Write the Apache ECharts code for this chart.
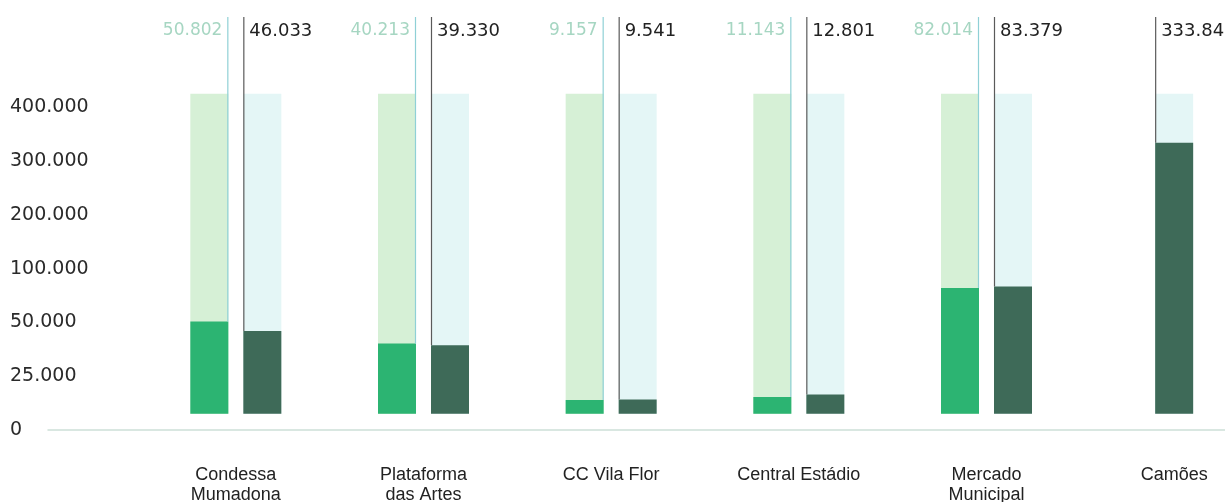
<!DOCTYPE html>
<html>
<head>
<meta charset="utf-8">
<script src="https://cdn.jsdelivr.net/npm/echarts@6/dist/echarts.min.js"></script>
<style>
html,body{margin:0;padding:0;background:#fff;}
#chart{width:1225px;height:502px;}
</style>
</head>
<body>
<div id="chart"></div>
<script>
// ---- data ----
const categories = ['Condessa\nMumadona', 'Plataforma\ndas Artes', 'CC Vila Flor', 'Central Estádio', 'Mercado\nMunicipal', 'Camões'];
const seriesGreen = [50802, 40213, 9157, 11143, 82014, null];
const seriesDark = [46033, 39330, 9541, 12801, 83379, 333847];
const tickValues = [0, 25000, 50000, 100000, 200000, 300000, 400000];
const tickLabels = ['0', '25.000', '50.000', '100.000', '200.000', '300.000', '400.000'];
const capValue = 425000; // height of the pale background columns

// ---- scale helpers (piecewise axis: each tick label is one equal step) ----
const BAR_BASE = 0.3; // bars start slightly above the "0" label
function toPos(v) {
  const pos = [BAR_BASE, 1, 2, 3, 4, 5, 6];
  if (v <= tickValues[0]) return pos[0];
  for (let k = 1; k < tickValues.length; k++) {
    if (v <= tickValues[k]) {
      return pos[k - 1] + (v - tickValues[k - 1]) / (tickValues[k] - tickValues[k - 1]) * (pos[k] - pos[k - 1]);
    }
  }
  const n = tickValues.length - 1;
  return pos[n] + (v - tickValues[n]) / (tickValues[n] - tickValues[n - 1]);
}
function fmt(v) {
  return String(Math.round(v)).replace(/\B(?=(\d{3})+(?!\d))/g, '.');
}

const NUM_FONT = '"DejaVu Sans", "Noto Sans", sans-serif';
const CAT_FONT = '"Liberation Sans", Arial, sans-serif';
const data = categories.map((c, i) => [i, seriesGreen[i], seriesDark[i]]);

function renderItem(params, api) {
  const i = api.value(0);
  const a = seriesGreen[i];
  const b = seriesDark[i];
  const center = api.coord([i, 0]);
  const base = api.coord([i, BAR_BASE])[1];
  const capY = api.coord([i, toPos(capValue)])[1];
  const W = 38, G = 15;
  const lineTop = params.coordSys.y - 74;
  const labelY = lineTop + 14;
  const children = [];
  let xb;
  if (a != null) {
    const xa = center[0] - G / 2 - W;
    const ya = api.coord([i, toPos(a)])[1];
    children.push({ type: 'rect', shape: { x: xa, y: capY, width: W, height: base - capY }, style: { fill: '#d6f0d6' } });
    children.push({ type: 'rect', shape: { x: xa, y: ya, width: W, height: base - ya }, style: { fill: '#2cb472' } });
    children.push({ type: 'line', shape: { x1: xa + W - 0.5, y1: lineTop, x2: xa + W - 0.5, y2: ya }, style: { stroke: '#8fd0d6', lineWidth: 1.2 } });
    children.push({ type: 'text', x: xa + W - 6, y: labelY, style: { text: fmt(a), textAlign: 'right', textVerticalAlign: 'middle', fill: '#a6d6c2', font: '17px ' + NUM_FONT } });
    xb = center[0] + G / 2;
  } else {
    xb = center[0] - W / 2;
  }
  const yb = api.coord([i, toPos(b)])[1];
  children.push({ type: 'rect', shape: { x: xb, y: capY, width: W, height: base - capY }, style: { fill: '#e4f6f6' } });
  children.push({ type: 'rect', shape: { x: xb, y: yb, width: W, height: base - yb }, style: { fill: '#3e6a58' } });
  children.push({ type: 'line', shape: { x1: xb + 0.5, y1: lineTop, x2: xb + 0.5, y2: yb }, style: { stroke: '#5a5a5a', lineWidth: 1.2 } });
  children.push({ type: 'text', x: xb + 6, y: labelY, style: { text: fmt(b), textAlign: 'left', textVerticalAlign: 'middle', fill: '#222', font: '18px ' + NUM_FONT } });
  return { type: 'group', children: children };
}

const chart = echarts.init(document.getElementById('chart'), null, { renderer: 'canvas' });
chart.setOption({
  animation: false,
  backgroundColor: '#ffffff',
  grid: [
    { left: 142, width: 1126, top: 91, bottom: 72, containLabel: false, outerBoundsMode: 'none' },
    { left: 48, right: 0, top: 429, bottom: 72, containLabel: false, outerBoundsMode: 'none' }
  ],
  xAxis: [
    {
      type: 'category', gridIndex: 0, data: categories,
      axisLine: { show: false }, axisTick: { show: false },
      axisLabel: { margin: 35, color: '#222', fontSize: 18, lineHeight: 20, fontFamily: CAT_FONT, interval: 0, hideOverlap: false }
    },
    {
      type: 'value', gridIndex: 1, min: 0, max: 1,
      axisLine: { show: true, lineStyle: { color: '#cde0d8', width: 1.5 } },
      axisTick: { show: false }, axisLabel: { show: false }, splitLine: { show: false }
    }
  ],
  yAxis: [
    {
      type: 'value', gridIndex: 0, min: 0, max: 6.3, interval: 1,
      axisLine: { show: false }, axisTick: { show: false }, splitLine: { show: false },
      axisLabel: {
        align: 'left', margin: 132, color: '#2a2a2a', fontSize: 19, fontFamily: NUM_FONT,
        padding: [4, 0, 0, 0],
        formatter: function (v) { return tickLabels[v] !== undefined ? tickLabels[v] : ''; }
      }
    },
    { type: 'value', gridIndex: 1, show: false, min: 0, max: 1 }
  ],
  series: [
    {
      type: 'custom', xAxisIndex: 0, yAxisIndex: 0,
      renderItem: renderItem,
      encode: { x: 0, y: 2 },
      clip: false,
      data: data
    }
  ]
});
</script>
</body>
</html>
